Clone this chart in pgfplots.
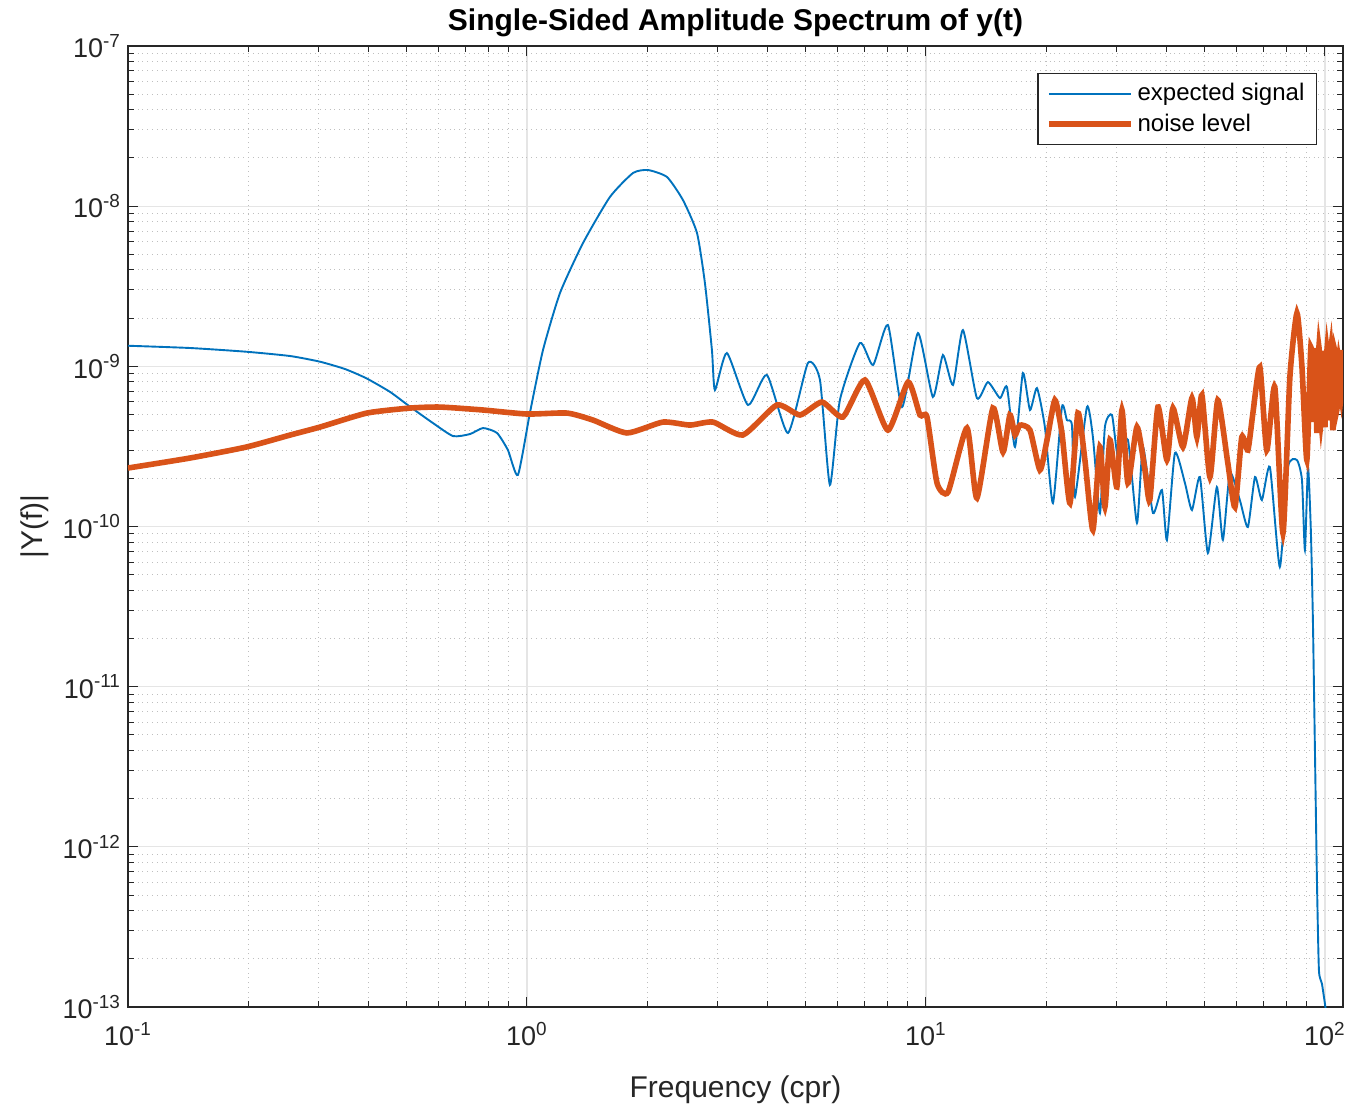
\documentclass[border=0pt]{standalone}
\usepackage{fontspec}
\setmainfont{Liberation Sans}
\usepackage{pgfplots}
\pgfplotsset{compat=1.18}
\definecolor{mblue}{HTML}{0072BD}
\definecolor{morange}{HTML}{D95319}
\definecolor{axgray}{HTML}{262626}

\begin{document}
\begin{tikzpicture}
% frame of the reference: axis box 1215x961 px at 0.5pt per px
\useasboundingbox (-64pt,-49pt) rectangle (611pt,503.5pt);
\begin{loglogaxis}[
  scale only axis, width=607.5pt, height=480.5pt,
  xmin=0.1, xmax=111, ymin=1e-13, ymax=1e-7,
  log basis x=10, log basis y=10,
  xtick={0.1,1,10,100},
  ytick={1e-13,1e-12,1e-11,1e-10,1e-9,1e-8,1e-7},
  minor xtick={0.2,0.3,0.4,0.5,0.6,0.7,0.8,0.9,2,3,4,5,6,7,8,9,20,30,40,50,60,70,80,90},
  minor ytick={2e-13,3e-13,4e-13,5e-13,6e-13,7e-13,8e-13,9e-13,
               2e-12,3e-12,4e-12,5e-12,6e-12,7e-12,8e-12,9e-12,
               2e-11,3e-11,4e-11,5e-11,6e-11,7e-11,8e-11,9e-11,
               2e-10,3e-10,4e-10,5e-10,6e-10,7e-10,8e-10,9e-10,
               2e-9,3e-9,4e-9,5e-9,6e-9,7e-9,8e-9,9e-9,
               2e-8,3e-8,4e-8,5e-8,6e-8,7e-8,8e-8,9e-8},
  xticklabel={10\textsuperscript{\pgfmathparse{int(round(\tick))}\pgfmathresult}},
  yticklabel={10\textsuperscript{\pgfmathparse{int(round(\tick))}\pgfmathresult}},
  tick label style={font=\fontsize{13.5}{16}\selectfont, text=axgray},
  xticklabel style={yshift=-4pt},
  xtick pos=both, ytick pos=both, xticklabel pos=lower, yticklabel pos=left,
  tick align=inside, major tick length=5pt, minor tick length=3pt,
  every tick/.style={axgray, line width=0.5pt},
  axis line style={draw=axgray, line width=0.6pt},
  grid=both,
  major grid style={draw=black!10, line width=0.6pt},
  minor grid style={draw=black!25, dotted, line width=0.5pt},
  title={Single-Sided Amplitude Spectrum of y(t)},
  title style={font=\bfseries\fontsize{15}{18}\selectfont, yshift=-5pt},
  xlabel={Frequency (cpr)},
  ylabel={|Y(f)|},
  label style={font=\fontsize{15}{18}\selectfont, text=axgray},
  xlabel style={yshift=-8pt},
  legend style={at={(0.9786,0.972)}, anchor=north east, draw=axgray, line width=0.6pt,
    font=\fontsize{12}{14}\selectfont, cells={anchor=west}, inner xsep=4pt, inner ysep=3pt,
    row sep=1pt},
  legend image code/.code={\draw[#1] (0pt,0pt) -- (41pt,0pt);},
]
\addplot[mblue, line width=0.95pt, smooth, tension=0.35] coordinates {
(0.1,1.345e-9) (0.143,1.302e-9) (0.198,1.234e-9) (0.255,1.160e-9) (0.303,1.069e-9)
(0.350,9.62e-10) (0.396,8.42e-10) (0.454,6.92e-10) (0.509,5.60e-10) (0.581,4.43e-10)
(0.653,3.67e-10) (0.720,3.78e-10) (0.776,4.12e-10) (0.841,3.84e-10) (0.896,3.00e-10)
(0.949,2.10e-10) (1.017,5.11e-10) (1.097,1.265e-9) (1.21,2.87e-9) (1.382,5.89e-9)
(1.614,1.141e-8) (1.844,1.611e-8) (2.011,1.682e-8) (2.244,1.521e-8) (2.46,1.093e-8)
(2.668,6.80e-9) (2.793,3.31e-9) (2.908,1.265e-9) (2.959,7.12e-10) (3.171,1.211e-9)
(3.58,5.74e-10) (3.995,8.83e-10) (4.51,3.84e-10) (5.06,1.049e-9) (5.425,8.22e-10)
(5.745,1.82e-10) (6.086,6.16e-10) (6.833,1.399e-9) (7.37,1.019e-9) (8.03,1.812e-9)
(8.71,5.57e-10) (9.55,1.615e-9) (10.41,6.44e-10) (11.03,1.177e-9) (11.69,7.65e-10)
(12.38,1.686e-9) (13.42,6.34e-10) (14.3,7.98e-10) (15.33,6.34e-10) (15.96,7.43e-10)
(16.72,3.14e-10) (17.5,9.09e-10) (18.23,5.34e-10) (18.98,7.32e-10) (19.87,4.18e-10)
(20.81,1.40e-10) (21.92,5.57e-10) (22.56,4.62e-10) (23.22,4.30e-10) (23.63,1.528e-10)
(25.32,5.57e-10) (26.21,3.62e-10) (27.3,1.214e-10) (28.09,4.18e-10) (29.26,4.97e-10)
(30.29,2.716e-10) (32.08,3.47e-10) (33.8,1.052e-10) (34.99,3.14e-10) (37.07,1.214e-10)
(39.04,1.69e-10) (40.18,8.24e-11) (42.08,2.877e-10) (44.58,1.869e-10) (46.42,1.268e-10)
(48.6,2.038e-10) (50.9,6.83e-11) (53.6,1.765e-10) (55.5,8.24e-11) (57.8,2.158e-10)
(61.2,1.464e-10) (64.1,9.93e-11) (66.8,2.038e-10) (69.5,1.464e-10) (72.8,2.352e-10)
(77.1,5.59e-11) (80.8,2.352e-10) (85.1,2.60e-10) (87.6,1.951e-10) (89.1,7.13e-11)
(90.7,2.352e-10) (92.2,9.51e-11) (93.3,2.61e-11) (94.4,4.02e-12) (95.5,6.21e-13)
(96.6,1.70e-13) (98.3,1.4e-13) (100.9,9e-14)
};
\addlegendentry{expected signal}
\addplot[morange, line width=2.8pt, smooth, tension=0.35] coordinates {
(0.1,2.319e-10) (0.143,2.677e-10) (0.198,3.136e-10) (0.255,3.727e-10) (0.303,4.18e-10)
(0.397,5.11e-10) (0.509,5.49e-10) (0.605,5.57e-10) (0.776,5.34e-10) (1.0,5.04e-10)
(1.26,5.11e-10) (1.464,4.62e-10) (1.781,3.84e-10) (2.192,4.49e-10) (2.562,4.30e-10)
(2.926,4.49e-10) (3.477,3.73e-10) (4.232,5.74e-10) (4.833,4.97e-10) (5.487,5.99e-10)
(6.194,4.83e-10) (7.033,8.22e-10) (8.03,4.00e-10) (9.02,7.98e-10) (9.66,4.97e-10)
(10.06,4.83e-10) (10.66,1.869e-10) (11.36,1.642e-10) (12.67,4.12e-10) (13.42,1.507e-10)
(14.72,5.49e-10) (15.6,2.919e-10) (16.24,4.97e-10) (16.72,3.73e-10) (17.2,4.30e-10)
(18.23,4.00e-10) (19.31,2.253e-10) (20.11,3.47e-10) (21.05,6.16e-10) (21.92,3.84e-10)
(22.96,1.40e-10) (24.04,5.11e-10) (25.03,2.60e-10) (26.21,9.51e-11) (27.3,3.14e-10)
(28.09,1.324e-10) (28.92,3.47e-10) (30.1,1.765e-10) (31.0,5.34e-10) (32.08,1.869e-10)
(33.8,4.18e-10) (35.4,2.253e-10) (36.4,1.464e-10) (38.15,5.57e-10) (40.18,2.60e-10)
(41.6,5.49e-10) (44.07,3.14e-10) (46.42,6.34e-10) (47.77,3.62e-10) (49.17,6.62e-10)
(51.5,2.038e-10) (53.9,6.16e-10) (57.1,2.492e-10) (59.5,1.324e-10) (61.9,3.62e-10)
(64.1,3.00e-10) (66.0,5.11e-10) (68.7,9.90e-10) (71.5,3.00e-10) (74.9,7.43e-10)
(78.5,9.11e-11) (81.7,8.58e-10) (85.1,2.15e-9) (87.6,9.90e-10) (90.1,2.60e-10)
(92.2,1.32e-9) (93.3,4.5e-10) (94.4,1.30e-9) (95.5,3.84e-10) (96.6,1.32e-9)
(97.8,4.5e-10) (98.9,1.25e-9) (100.0,4.18e-10) (101.2,1.265e-9) (102.3,4.62e-10)
(103.5,1.30e-9) (104.7,4.0e-10) (105.9,1.25e-9) (107.1,5.34e-10) (108.4,1.095e-9)
(109.7,6.62e-10) (111.0,1.265e-9)
};
\addlegendentry{noise level}
\end{loglogaxis}
\end{tikzpicture}
\end{document}
